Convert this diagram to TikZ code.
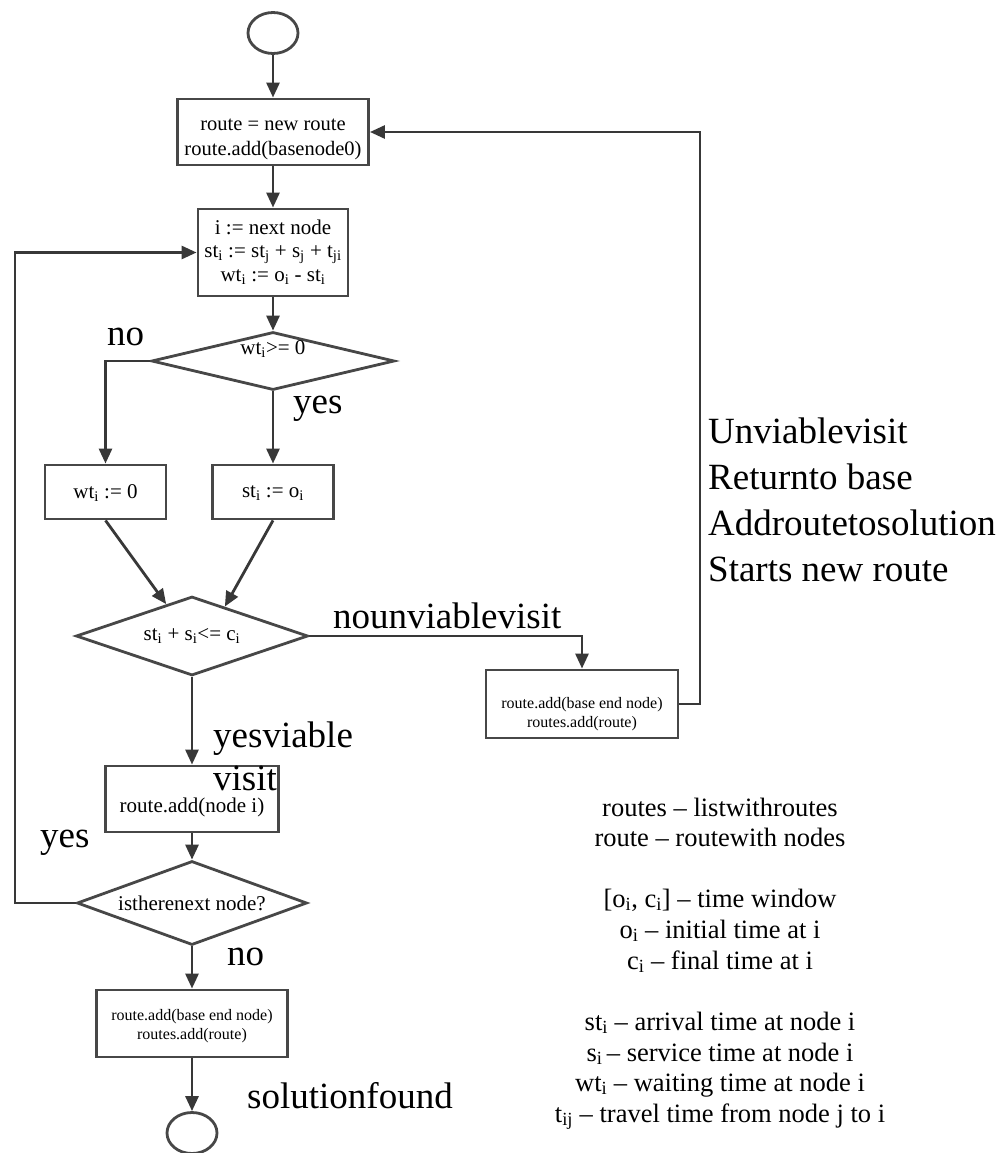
\documentclass[tikz,border=0pt]{standalone}
\usepackage{fontspec}
\setmainfont{Liberation Serif}
\usetikzlibrary{arrows.meta,shapes.geometric,calc}
\newcommand{\sbs}[1]{\textsubscript{#1}}

\begin{document}
\begin{tikzpicture}[x=1pt,y=-1pt,
  flow/.style={line width=2.8pt, draw=black!78, -{Triangle[length=15pt,width=13pt]}},
  box/.style={draw=black!72, line width=2.9pt, inner sep=0pt},
  dec/.style={draw=black!72, line width=2.8pt, shape=diamond, inner sep=0pt, align=center},
  term/.style={draw=black!72, line width=2.8pt, ellipse, minimum width=50pt, minimum height=41pt, inner sep=0pt},
  txt/.style={inner sep=0pt, align=center},
  mid/.style={font=\fontsize{21}{23.5}\selectfont},
  low/.style={font=\fontsize{16}{18.5}\selectfont},
  big/.style={font=\fontsize{37}{43}\selectfont, inner sep=0pt, anchor=base west},
  legend/.style={font=\fontsize{26.5}{30.5}\selectfont, inner sep=0pt, anchor=base},
]
\path[use as bounding box, fill=white] (0,0) rectangle (1002,1153);

% helper columns for the two feedback lines
\coordinate (lp) at (15,0);
\coordinate (rt) at (700,0);

% terminals
\node[term] (s) at (273,33) {};
\node[term] (e) at (192,1133) {};

% process boxes
\node[box, minimum width=191pt, minimum height=66pt] (b1) at (273,132) {};
\node[txt, font=\fontsize{20.5}{25}\selectfont] (b1t) at (273,139) {route = new route\\route.add(basenode0)};

\node[box, minimum width=150pt, minimum height=87pt] (b2) at (273,252.5) {};
\node[txt, mid] (b2t) at (273,252) {i := next node\\st\sbs{i} := st\sbs{j} + s\sbs{j} + t\sbs{ji}\\wt\sbs{i} := o\sbs{i} - st\sbs{i}};

\node[box, minimum width=121pt, minimum height=54pt] (wt) at (105.5,492) {};
\node[txt, mid] (wtt) at (105.5,493) {wt\sbs{i} := 0};

\node[box, minimum width=121pt, minimum height=54pt] (st) at (273,492) {};
\node[txt, mid] (stt) at (273,493) {st\sbs{i} := o\sbs{i}};

\node[box, minimum width=173pt, minimum height=66pt] (bn) at (192,799) {};
\node[txt, mid] (bnt) at (192,807) {route.add(node i)};

\node[box, minimum width=192pt, minimum height=68pt] (br) at (582,704) {};
\node[txt, low] (brt) at (582,714) {route.add(base end node)\\routes.add(route)};

\node[box, minimum width=191pt, minimum height=67pt] (be) at (192,1023.5) {};
\node[txt, low] (bet) at (192,1026) {route.add(base end node)\\routes.add(route)};

% decisions
\node[dec, minimum width=243pt, minimum height=58pt, aspect=4.19] (d1) at (273,361) {};
\node[txt, mid] (d1t) at (273,349) {wt\sbs{i}>= 0};
\node[dec, mid, minimum width=232pt, minimum height=79pt, aspect=2.94] (d2) at (192,636) {st\sbs{i} + s\sbs{i}<= c\sbs{i}};
\node[dec, mid, minimum width=230pt, minimum height=84pt, aspect=2.74] (d3) at (192,903) {istherenext node?};

% connectors
\draw[flow] (s.south) -- (b1.north);
\draw[flow] (b1.south) -- (b2.north);
\draw[flow] (b2.south) -- (d1.north);
\draw[flow] (d1.west) -| (wt.north);
\draw[flow] (d1.south) -- (st.north);
\draw[flow] (wt.south) -- ($(d2.north)!0.22!(d2.west)$);
\draw[flow] (st.south) -- ($(d2.north)!0.28!(d2.east)$);
\draw[flow] (d2.south) -- (bn.north);
\draw[flow] (d2.east) -| (br.north);
\draw[flow] (br.east) -- (br.east -| rt) |- (b1.east);
\draw[flow] (bn.south) -- (d3.north);
\draw[flow] (d3.west) -- (d3.west -| lp) |- (b2.west);
\draw[flow] (d3.south) -- (be.north);
\draw[flow] (be.south) -- (e.north);

% branch labels
\node[big] (lno1) at (107,345) {no};
\node[big] (lyes1) at (293,413) {yes};
\node[big] (lnv) at (333,628) {nounviablevisit};
\node[big] (lyv1) at (213,747) {yesviable};
\node[big] (lyv2) at (213,790) {visit};
\node[big] (lyes2) at (40,847) {yes};
\node[big] (lno2) at (227,965) {no};
\node[big] (lsol) at (247,1108) {solutionfound};

\node[big] (u1) at (708,443) {Unviablevisit};
\node[big] (u2) at (708,489) {Returnto base};
\node[big] (u3) at (708,535) {Addroutetosolution};
\node[big] (u4) at (708,581) {Starts new route};

% notation
\node[legend] (lg1) at (720,816) {routes -- listwithroutes};
\node[legend] (lg2) at (720,846) {route -- routewith nodes};
\node[legend] (lg3) at (720,907) {[o\sbs{i}, c\sbs{i}] -- time window};
\node[legend] (lg4) at (720,938) {o\sbs{i} -- initial time at i};
\node[legend] (lg5) at (720,969) {c\sbs{i} -- final time at i};
\node[legend] (lg6) at (720,1030) {st\sbs{i} -- arrival time at node i};
\node[legend] (lg7) at (720,1061) {s\sbs{i}\,-- service time at node i};
\node[legend] (lg8) at (720,1091) {wt\sbs{i} -- waiting time at node i};
\node[legend] (lg9) at (720,1122) {t\sbs{ij} -- travel time from node j to i};
\end{tikzpicture}
\end{document}
